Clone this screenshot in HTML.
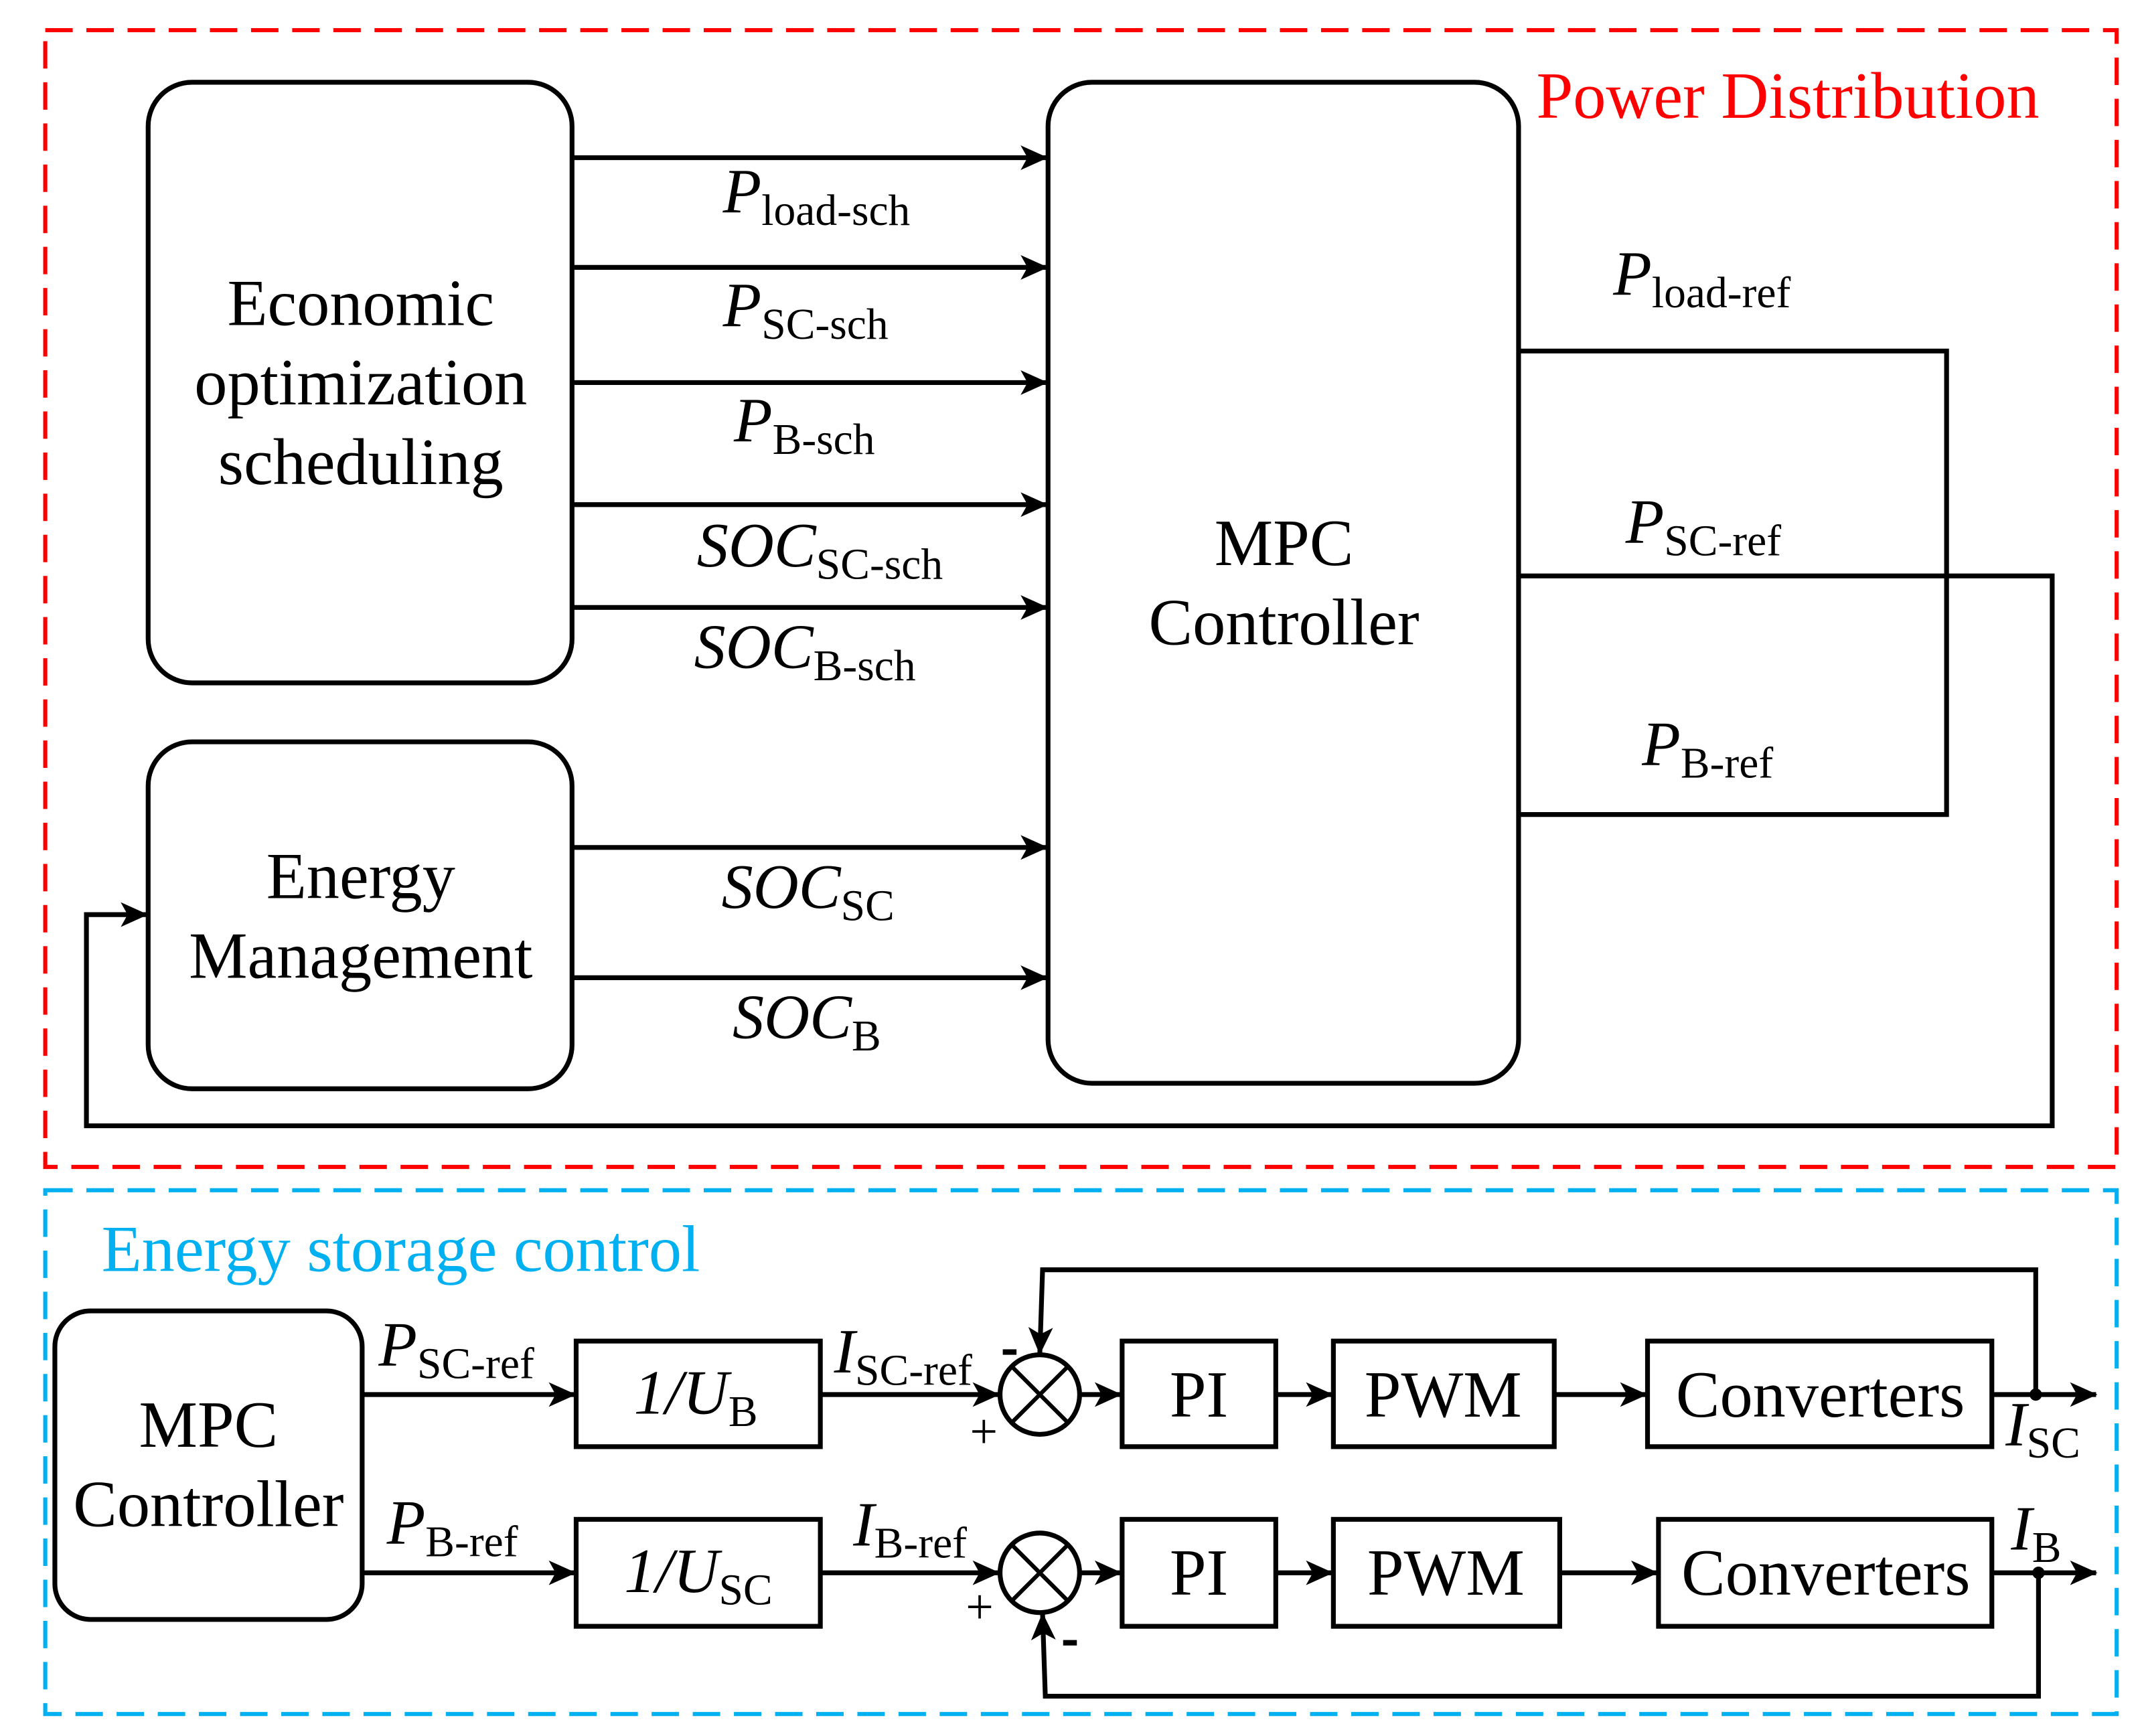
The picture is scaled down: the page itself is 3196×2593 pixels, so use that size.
<!DOCTYPE html>
<html><head><meta charset="utf-8"><style>
html,body{margin:0;padding:0;background:#fff;}
svg{display:block;}
text{font-family:"Liberation Serif",serif;fill:#000;}
.i{font-style:italic;}
</style></head><body>
<svg width="3196" height="2593" viewBox="0 0 1560 1266" preserveAspectRatio="none" xmlns="http://www.w3.org/2000/svg">
<defs>
<marker id="b" markerWidth="20" markerHeight="18" refX="19" refY="9" orient="auto" markerUnits="userSpaceOnUse" viewBox="0 0 20 18">
<path d="M0,0 L20,9 L0,18 L5,9 Z" fill="#000"/></marker>
</defs>
<rect x="33" y="22" width="1510" height="829" fill="none" stroke="#ff0000" stroke-width="3" stroke-dasharray="20 10"/>
<text x="1120" y="86" font-size="48" style="fill:#ff0000">Power Distribution</text>
<g fill="none" stroke="#000" stroke-width="3.5">
<rect x="108" y="60" width="309" height="438" rx="32"/>
<rect x="108" y="541" width="309" height="253" rx="32"/>
<rect x="764" y="60" width="343" height="730" rx="32"/>
</g>
<g font-size="48" text-anchor="middle">
<text x="263" y="237">Economic</text>
<text x="263" y="295">optimization</text>
<text x="263" y="353">scheduling</text>
<text x="263" y="655">Energy</text>
<text x="263" y="713">Management</text>
<text x="936" y="412">MPC</text>
<text x="936" y="470">Controller</text>
</g>
<g stroke="#000" stroke-width="3.5" fill="none" marker-end="url(#b)">
<line x1="417" y1="115" x2="763" y2="115"/>
<line x1="417" y1="195" x2="763" y2="195"/>
<line x1="417" y1="279" x2="763" y2="279"/>
<line x1="417" y1="368" x2="763" y2="368"/>
<line x1="417" y1="443" x2="763" y2="443"/>
<line x1="417" y1="618" x2="763" y2="618"/>
<line x1="417" y1="713" x2="763" y2="713"/>
<polyline points="1107,420 1496,420 1496,821 63,821 63,667 107,667"/>
</g>
<polyline points="1107,256 1419,256 1419,594 1107,594" stroke="#000" stroke-width="3.5" fill="none"/>
<g font-size="46">
<text x="527" y="155"><tspan class="i">P</tspan><tspan font-size="32" dy="9">load-sch</tspan></text>
<text x="527" y="238"><tspan class="i">P</tspan><tspan font-size="32" dy="9">SC-sch</tspan></text>
<text x="535" y="322"><tspan class="i">P</tspan><tspan font-size="32" dy="9">B-sch</tspan></text>
<text x="508" y="413"><tspan class="i">SOC</tspan><tspan font-size="32" dy="9">SC-sch</tspan></text>
<text x="506" y="487"><tspan class="i">SOC</tspan><tspan font-size="32" dy="9">B-sch</tspan></text>
<text x="526" y="662"><tspan class="i">SOC</tspan><tspan font-size="32" dy="9">SC</tspan></text>
<text x="534" y="757"><tspan class="i">SOC</tspan><tspan font-size="32" dy="9">B</tspan></text>
<text x="1176" y="215"><tspan class="i">P</tspan><tspan font-size="32" dy="9">load-ref</tspan></text>
<text x="1185" y="396"><tspan class="i">P</tspan><tspan font-size="32" dy="9">SC-ref</tspan></text>
<text x="1197" y="558"><tspan class="i">P</tspan><tspan font-size="32" dy="9">B-ref</tspan></text>
</g>
<rect x="33" y="868" width="1510" height="382" fill="none" stroke="#00b0f0" stroke-width="3" stroke-dasharray="20 10"/>
<text x="74" y="927" font-size="48" style="fill:#00b0f0">Energy storage control</text>
<g fill="none" stroke="#000" stroke-width="3.5">
<rect x="40" y="956" width="224" height="225" rx="26"/>
<rect x="420" y="978" width="178" height="77"/>
<rect x="420" y="1108" width="178" height="78"/>
<rect x="818" y="978" width="112" height="77"/>
<rect x="818" y="1108" width="112" height="78"/>
<rect x="972" y="978" width="161" height="77"/>
<rect x="972" y="1108" width="165" height="78"/>
<rect x="1201" y="978" width="251" height="77"/>
<rect x="1209" y="1108" width="243" height="78"/>
<circle cx="758" cy="1017" r="29"/>
<circle cx="758" cy="1147" r="29"/>
<path d="M737,996 L779,1038 M779,996 L737,1038 M737,1126 L779,1168 M779,1126 L737,1168" stroke-width="3"/>
</g>
<g stroke="#000" stroke-width="3.5" fill="none" marker-end="url(#b)">
<line x1="264" y1="1017" x2="419" y2="1017"/>
<line x1="264" y1="1147" x2="419" y2="1147"/>
<line x1="598" y1="1017" x2="728" y2="1017"/>
<line x1="598" y1="1147" x2="728" y2="1147"/>
<line x1="787" y1="1017" x2="817" y2="1017"/>
<line x1="787" y1="1147" x2="817" y2="1147"/>
<line x1="930" y1="1017" x2="971" y2="1017"/>
<line x1="930" y1="1147" x2="971" y2="1147"/>
<line x1="1133" y1="1017" x2="1200" y2="1017"/>
<line x1="1137" y1="1147" x2="1208" y2="1147"/>
<line x1="1452" y1="1017" x2="1528" y2="1017"/>
<line x1="1452" y1="1147" x2="1528" y2="1147"/>
<polyline points="1484,1017 1484,926 760,926 758,987"/>
<polyline points="1486,1147 1486,1237 762,1237 760,1177"/>
</g>
<circle cx="1484" cy="1017" r="4.5" fill="#000"/>
<circle cx="1486" cy="1147" r="4.5" fill="#000"/>
<g font-size="48">
<text x="152" y="1055" text-anchor="middle">MPC</text>
<text x="152" y="1113" text-anchor="middle">Controller</text>
<text x="874" y="1033" text-anchor="middle">PI</text>
<text x="874" y="1163" text-anchor="middle">PI</text>
<text x="1052" y="1033" text-anchor="middle">PWM</text>
<text x="1054" y="1163" text-anchor="middle">PWM</text>
<text x="1327" y="1033" text-anchor="middle">Converters</text>
<text x="1331" y="1163" text-anchor="middle">Converters</text>
</g>
<g font-size="46">
<text x="462" y="1031"><tspan class="i">1/U</tspan><tspan font-size="32" dy="9">B</tspan></text>
<text x="455" y="1161"><tspan class="i">1/U</tspan><tspan font-size="32" dy="9">SC</tspan></text>
<text x="276" y="996"><tspan class="i">P</tspan><tspan font-size="32" dy="9">SC-ref</tspan></text>
<text x="282" y="1126"><tspan class="i">P</tspan><tspan font-size="32" dy="9">B-ref</tspan></text>
<text x="608" y="1001"><tspan class="i">I</tspan><tspan font-size="32" dy="9">SC-ref</tspan></text>
<text x="622" y="1127"><tspan class="i">I</tspan><tspan font-size="32" dy="9">B-ref</tspan></text>
<text x="1462" y="1054"><tspan class="i">I</tspan><tspan font-size="32" dy="9">SC</tspan></text>
<text x="1466" y="1130"><tspan class="i">I</tspan><tspan font-size="32" dy="9">B</tspan></text>
</g>
<g font-size="36">
<text x="707" y="1056">+</text>
<text x="704" y="1184">+</text>
</g>
<rect x="731" y="984" width="10" height="4" fill="#000"/>
<rect x="775" y="1196" width="10" height="4" fill="#000"/>
</svg>
</body></html>
